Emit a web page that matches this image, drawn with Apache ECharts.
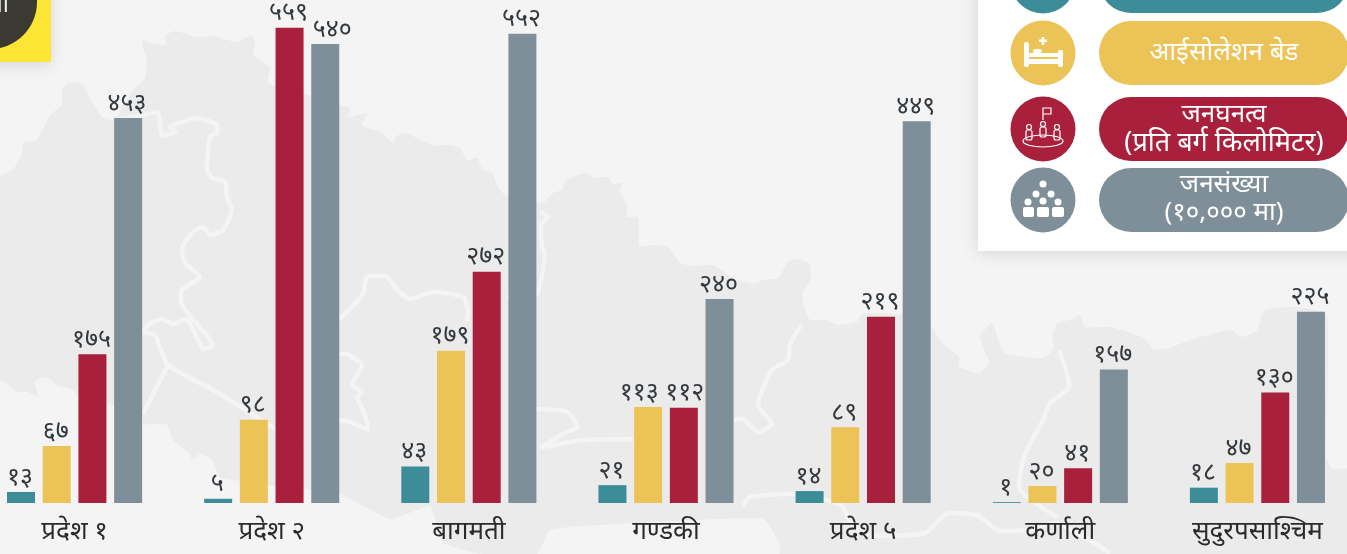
<!DOCTYPE html>
<html>
<head>
<meta charset="utf-8">
<title>प्रदेश तुलना</title>
<script src="https://cdn.jsdelivr.net/npm/echarts@6/dist/echarts.min.js"></script>
<style>
html,body{margin:0;padding:0;background:#f4f4f4;overflow:hidden;}
#main{width:1347px;height:554px;}
</style>
</head>
<body>
<div id="main"></div>
<script>
var categories=['प्रदेश १','प्रदेश २','बागमती','गण्डकी','प्रदेश ५','कर्णाली','सुदुरपसाश्चिम'];
var seriesNames=['कोरोना बेड','आईसोलेशन बेड','जनघनत्व','जनसंख्या'];
var bedValues=[13,5,43,21,14,1,18];
var isolationValues=[67,98,179,113,89,20,47];
var densityValues=[175,559,272,112,219,41,130];
var populationValues=[453,540,552,240,449,157,225];
var colorData=['#3c8d97','#ecc357','#a9203c','#7f8f99'];
var fontName='"Noto Sans","Noto Sans Devanagari","Lato",sans-serif';

// map in the background, traced by eye
var mapOutline=[[0,177],[13,170],[22,153],[23,143],[37,140],[50,115],[62,105],[62,90],[68,83],[82,83],[88,95],[103,118],[115,120],[133,90],[145,78],[147,60],[143,48],[143,38],[150,43],[166,45],[166,35],[175,31],[197,37],[213,36],[237,42],[252,35],[255,43],[253,55],[270,67],[268,83],[300,93],[350,108],[348,117],[367,113],[362,125],[382,133],[393,143],[395,137],[405,133],[433,145],[450,145],[460,148],[467,160],[477,158],[483,170],[492,172],[498,188],[508,197],[543,203],[553,193],[562,190],[565,182],[575,176],[587,173],[593,178],[608,177],[613,184],[622,183],[620,192],[627,205],[627,217],[638,217],[639,246],[650,245],[668,247],[680,263],[692,266],[713,265],[733,278],[755,284],[763,280],[778,278],[788,262],[797,259],[809,263],[811,278],[802,295],[806,312],[810,320],[827,320],[837,325],[857,322],[862,313],[905,315],[931,327],[944,345],[959,357],[959,367],[980,373],[989,362],[980,337],[992,323],[1004,353],[1044,358],[1054,348],[1052,337],[1057,323],[1070,320],[1080,315],[1085,327],[1110,327],[1142,337],[1154,349],[1170,348],[1190,340],[1230,330],[1242,337],[1257,330],[1264,310],[1297,307],[1327,315],[1326,458],[1333,469],[1347,469],[1347,554],[780,554],[780,544],[763,519],[600,525],[550,530],[537,554],[482,554],[443,543],[436,521],[430,506],[390,519],[340,494],[260,484],[220,477],[212,460],[200,454],[192,460],[190,454],[173,440],[167,425],[143,424],[142,415],[78,395],[72,389],[55,385],[52,380],[42,377],[35,382],[38,397],[28,392],[17,392],[8,384],[0,379]];
var mapLines=[
    [[115,120],[143,115],[158,113],[162,135],[175,132],[170,127],[197,118],[217,125],[217,133],[210,137],[207,170],[212,178],[225,182],[227,197],[232,210],[223,230],[210,235],[203,227],[193,232],[182,248],[185,263],[200,277],[182,290],[182,305],[208,337],[213,345],[203,349],[187,319],[173,324],[162,319],[148,325],[143,332],[155,335],[168,365],[217,392],[267,424],[303,444]],
    [[168,365],[143,414]],
    [[339,420],[350,422],[368,429],[363,410],[357,397],[362,392],[352,385],[362,365],[347,354],[339,354]],
    [[339,320],[363,294],[367,277],[387,277],[397,290],[410,299],[433,292],[463,297],[468,310],[467,322]],
    [[507,297],[536,295],[545,255],[542,245],[541,225],[548,217],[540,212]],
    [[536,409],[567,412],[578,427],[567,432],[553,440],[542,447],[583,440],[633,439]],
    [[734,420],[743,419],[758,432],[772,424],[758,405],[772,370],[788,360],[790,344],[802,324]],
    [[743,507],[750,497],[797,494],[841,505],[852,525],[870,535],[925,533],[946,514],[977,515],[997,530],[1030,530],[1057,523],[1110,553]],
    [[1059,350],[1069,387],[1050,403],[1043,420],[1024,457],[1020,490],[1057,517]]
];

function toNepali(num){
    var digits='०१२३४५६७८९';
    return String(num).replace(/[0-9]/g,function(d){return digits[+d];});
}
function roundRect(x,y,w,h,r,fill){
    return {type:'rect',shape:{x:x,y:y,width:w,height:h,r:r},style:{fill:fill},silent:true};
}
function circle(cx,cy,r,fill){
    return {type:'circle',shape:{cx:cx,cy:cy,r:r},style:{fill:fill},silent:true};
}
function label(text,x,y,size,fill,align){
    return {type:'text',style:{text:text,x:x,y:y,fill:fill,font:'400 '+size+'px '+fontName,textAlign:align||'center',textVerticalAlign:'middle'},silent:true};
}
function stroke(points,color,width){
    return {type:'polyline',shape:{points:points},style:{stroke:color,lineWidth:width,fill:null},silent:true};
}

var graphics=[];
graphics.push({type:'polygon',shape:{points:mapOutline,smooth:0.15},style:{fill:'#ebebeb'},silent:true});
for(var i=0;i<mapLines.length;i++){
    graphics.push({type:'polyline',shape:{points:mapLines[i],smooth:0.2},style:{stroke:'#f4f4f4',lineWidth:4.5,fill:null,lineJoin:'round'},silent:true});
}

// top left badge
graphics.push({type:'rect',shape:{x:-20,y:-20,width:71,height:82},style:{fill:'#fde536',shadowBlur:14,shadowColor:'rgba(0,0,0,0.12)',shadowOffsetY:3},silent:true});
graphics.push(circle(-10,2,47,'#3a3a33'));
graphics.push(label('ना',9,5,24,'#f2f2ee','right'));

// legend panel
graphics.push({type:'rect',shape:{x:978,y:-20,width:400,height:271},style:{fill:'#fff',shadowBlur:16,shadowColor:'rgba(0,0,0,0.13)',shadowOffsetY:2},silent:true});
graphics.push(circle(1043,-19,32.5,colorData[0]));
graphics.push(roundRect(1099,-51,250,64,32,colorData[0]));
graphics.push(circle(1043,53,32.5,colorData[1]));
graphics.push(roundRect(1099,21,250,64,32,colorData[1]));
graphics.push(circle(1043,129,32.5,colorData[2]));
graphics.push(roundRect(1099,97,250,64,32,colorData[2]));
graphics.push(circle(1043,200,32.5,colorData[3]));
graphics.push(roundRect(1099,168,250,64,32,colorData[3]));
graphics.push(label('आईसोलेशन बेड',1224,53,26,'#fff'));
graphics.push(label('जनघनत्व',1224,115,26,'#fff'));
graphics.push(label('(प्रति बर्ग किलोमिटर)',1224,143,27,'#fff'));
graphics.push(label('जनसंख्या',1224,185,26,'#fff'));
graphics.push(label('(१०,००० मा)',1224,213,26,'#fff'));

// bed icon
graphics.push(roundRect(1024,42,5,25,2,'#fff'));
graphics.push(roundRect(1058,50,5,17,2,'#fff'));
graphics.push(roundRect(1029,53,29,4,0,'#fff'));
graphics.push(roundRect(1029,59,29,5,0,'#fff'));
graphics.push(roundRect(1033,49,9,4,2,'#fff'));
graphics.push(roundRect(1039,39.5,8,2.5,0,'#fff'));
graphics.push(roundRect(1041.7,37,2.5,8,0,'#fff'));

// people and flag icon
graphics.push(stroke([[1043,120],[1043,108],[1051,108],[1051,114],[1043,114]],'#fff',1.2));
graphics.push({type:'ellipse',shape:{cx:1043,cy:141,rx:20,ry:6},style:{stroke:'#fff',lineWidth:1.2,fill:null},silent:true});
var personX=[1029,1043,1057];
for(var p=0;p<3;p++){
    var topY=p==1?124:127;
    graphics.push({type:'circle',shape:{cx:personX[p],cy:topY,r:2.5},style:{stroke:'#fff',lineWidth:1.2,fill:null},silent:true});
    graphics.push({type:'rect',shape:{x:personX[p]-3,y:topY+3,width:6,height:10,r:2},style:{stroke:'#fff',lineWidth:1.2,fill:null},silent:true});
}

// crowd icon
var headPoints=[[1043,184],[1036,194],[1051,194],[1028,202],[1043,201],[1058,202]];
for(var h=0;h<headPoints.length;h++){
    graphics.push(circle(headPoints[h][0],headPoints[h][1],3.5,'#fff'));
}
graphics.push(roundRect(1023,207,11,10,2,'#fff'));
graphics.push(roundRect(1037,207,12,10,2,'#fff'));
graphics.push(roundRect(1052,207,12,10,2,'#fff'));

// a few labels are pushed sideways so neighbours do not run into each other
function labelShift(s,idx){
    if(s==1 && idx==3) return -9;
    if(s==2 && idx==3) return 1;
    if(s==3 && idx==1) return 7;
    if(s==2 && idx==1) return -1;
    return -1;
}
var seriesDatas=[bedValues,isolationValues,densityValues,populationValues];
var seriesObj=[];
for(var s=0;s<seriesDatas.length;s++){
    var items=[];
    for(var k=0;k<seriesDatas[s].length;k++){
        items.push({value:seriesDatas[s][k],label:{offset:[labelShift(s,k),0]}});
    }
    seriesObj.push({
        name:seriesNames[s],
        type:'bar',
        data:items,
        barWidth:28,
        barGap:'27.5%',
        itemStyle:{color:colorData[s]},
        label:{
            show:true,
            position:'top',
            distance:2,
            color:'#33383d',
            fontFamily:fontName,
            fontSize:25,
            formatter:function(params){return toNepali(params.value);}
        }
    });
}

var chart=echarts.init(document.getElementById('main'));
chart.setOption({
    backgroundColor:'#f4f4f4',
    animation:false,
    grid:{left:-24,right:-9,top:-7,bottom:51,outerBoundsMode:'none'},
    xAxis:{
        type:'category',
        data:categories,
        axisLine:{show:false},
        axisTick:{show:false},
        axisLabel:{interval:0,margin:16,color:'#2b2b2b',fontFamily:fontName,fontSize:26,hideOverlap:false}
    },
    yAxis:{type:'value',min:0,max:600,show:false,splitLine:{show:false}},
    graphic:{elements:graphics},
    series:seriesObj
});
</script>
</body>
</html>
